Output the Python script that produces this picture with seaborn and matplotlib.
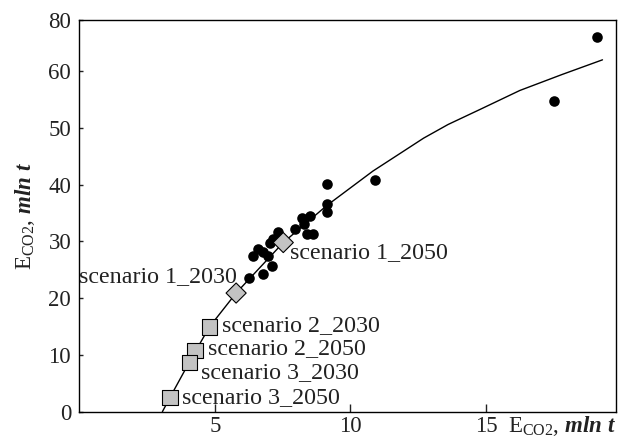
import matplotlib
matplotlib.use("Agg")
import matplotlib.pyplot as plt
import numpy as np
import pandas as pd
import seaborn as sns

# ---- data ----
obs_x = [6.25, 6.40, 6.59, 6.77, 6.96, 6.77, 7.09, 7.03, 7.14, 7.34, 7.95,
         8.20, 8.50, 8.30, 8.38, 8.63, 9.12, 9.12, 9.14, 10.90, 17.50, 19.10]
obs_y = [23.6, 27.4, 28.6, 28.2, 27.4, 24.2, 25.6, 29.8, 30.4, 31.6, 32.1,
         34.2, 34.5, 33.0, 31.3, 31.3, 40.1, 36.6, 35.2, 40.9, 54.7, 66.1]

scen_names = ["scenario 1_2030", "scenario 1_2050", "scenario 2_2030",
              "scenario 2_2050", "scenario 3_2030", "scenario 3_2050"]
scen_x = [5.78, 7.52, 4.79, 4.26, 4.05, 3.34]
scen_y = [20.9, 29.8, 14.9, 10.8, 8.7, 2.5]
scen_kind = ["diamond", "diamond", "square", "square", "square", "square"]

fit_x = [3.06, 3.34, 4.05, 4.79, 5.78, 7.52, 9.12, 10.83, 11.83, 12.70, 13.60, 14.80, 16.25, 17.80, 19.30]
fit_y = [0.0, 2.5, 8.7, 14.9, 20.9, 29.8, 36.3, 42.4, 45.5, 48.2, 50.6, 53.3, 56.6, 59.4, 62.0]

xticks = [5, 10, 15]
xtick_labels = ["5", "10", "15"]
yticks = [0, 10, 20, 30, 40, 50, 60, 69]
ytick_labels = ["0", "10", "20", "30", "40", "50", "60", "80"]

# ---- style ----
sns.set_theme(style="white")
plt.rcParams["font.family"] = ["Liberation Serif", "DejaVu Serif"]
plt.rcParams["mathtext.fontset"] = "custom"
plt.rcParams["mathtext.rm"] = "Liberation Serif"
plt.rcParams["mathtext.it"] = "Liberation Serif:italic:bold"
plt.rcParams["mathtext.bf"] = "Liberation Serif:bold"
FS = 16.5
FS_ANN = 17.3

fig = plt.figure(figsize=(6.21, 4.37), dpi=100)
ax = fig.add_axes([0.128, 0.058, 0.864, 0.896])

fit_df = pd.DataFrame({"x": fit_x, "y": fit_y})
sns.lineplot(data=fit_df, x="x", y="y", sort=False, estimator=None,
             color="black", linewidth=1.0, ax=ax, zorder=2)

obs_df = pd.DataFrame({"x": obs_x, "y": obs_y})
sns.scatterplot(data=obs_df, x="x", y="y", color="black", s=58,
                edgecolor="black", linewidth=0, ax=ax, zorder=3)

scen_df = pd.DataFrame({"x": scen_x, "y": scen_y, "kind": scen_kind, "name": scen_names})
sns.scatterplot(data=scen_df, x="x", y="y", style="kind",
                markers={"diamond": "D", "square": "s"},
                size="kind", sizes={"diamond": 105, "square": 120},
                color="#c3c3c3", edgecolor="black", linewidth=0.8,
                legend=False, ax=ax, zorder=4)

# label offsets in pixels (dx right, dy up) - layout only
offsets = {
    "scenario 1_2030": ((1, 17), "right"),
    "scenario 1_2050": ((7, -10), "left"),
    "scenario 2_2030": ((13, 2), "left"),
    "scenario 2_2050": ((13, 2), "left"),
    "scenario 3_2030": ((12, -10), "left"),
    "scenario 3_2050": ((12, 0), "left"),
}
for name, x, y in zip(scen_names, scen_x, scen_y):
    (dx, dy), ha = offsets[name]
    ax.annotate(name, (x, y), xytext=(dx, dy), textcoords="offset pixels",
                ha=ha, va="center", fontsize=FS_ANN, color="#222222", zorder=5)

ax.set_xlim(0, 19.8)
ax.set_ylim(0, 69)
ax.set_xticks(xticks)
ax.set_xticklabels(xtick_labels, fontsize=FS, color="#222222")
ax.set_yticks(yticks)
ax.set_yticklabels(ytick_labels, fontsize=FS, color="#222222")
ax.tick_params(axis="x", direction="in", length=6, width=1, pad=3, bottom=True, colors="#222222")
ax.tick_params(axis="y", direction="in", length=3, width=1, pad=6, left=True, colors="#222222")

for sp in ax.spines.values():
    sp.set_color("black")
    sp.set_linewidth(1.0)
    sp.set_visible(True)

ax.set_ylabel(r"E$_{\mathrm{CO2}}$, $\mathit{mln\ t}$", fontsize=FS, color="#222222", labelpad=8)
ax.set_xlabel(r"E$_{\mathrm{CO2}}$, $\mathit{mln\ t}$", fontsize=FS, color="#222222")
ax.xaxis.set_label_coords(1.0, -0.005)
ax.xaxis.label.set_horizontalalignment("right")
ax.xaxis.label.set_verticalalignment("top")

fig.savefig("out.png", dpi=100)
